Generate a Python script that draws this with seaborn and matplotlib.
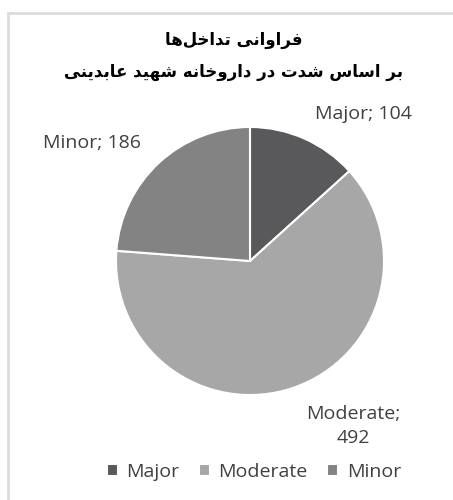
import matplotlib
matplotlib.use("Agg")
import matplotlib.pyplot as plt
import seaborn as sns
from matplotlib.patches import Rectangle

# data
categories = ["Major", "Moderate", "Minor"]
counts = [104, 492, 186]
colors = ["#59595b", "#a7a7a7", "#838383"]
title_lines = ["فراوانی تداخل‌ها", "بر اساس شدت در داروخانه شهید عابدینی"]

# matplotlib has no arabic shaping, so pick the joined glyph forms by hand
FORMS = {
    "ا": ("\uFE8D", "\uFE8E", None, None),
    "ب": ("\uFE8F", "\uFE90", "\uFE91", "\uFE92"),
    "ت": ("\uFE95", "\uFE96", "\uFE97", "\uFE98"),
    "خ": ("\uFEA5", "\uFEA6", "\uFEA7", "\uFEA8"),
    "د": ("\uFEA9", "\uFEAA", None, None),
    "ر": ("\uFEAD", "\uFEAE", None, None),
    "س": ("\uFEB1", "\uFEB2", "\uFEB3", "\uFEB4"),
    "ش": ("\uFEB5", "\uFEB6", "\uFEB7", "\uFEB8"),
    "ع": ("\uFEC9", "\uFECA", "\uFECB", "\uFECC"),
    "ف": ("\uFED1", "\uFED2", "\uFED3", "\uFED4"),
    "ل": ("\uFEDD", "\uFEDE", "\uFEDF", "\uFEE0"),
    "ن": ("\uFEE5", "\uFEE6", "\uFEE7", "\uFEE8"),
    "ه": ("\uFEE9", "\uFEEA", "\uFEEB", "\uFEEC"),
    "و": ("\uFEED", "\uFEEE", None, None),
    "ی": ("\uFEEF", "\uFEF0", "\uFEF3", "\uFEF4"),
}


def shape(s):
    out = []
    for i, ch in enumerate(s):
        if ch not in FORMS:
            if ch != "\u200c":
                out.append(ch)
            continue
        iso, fin, ini, med = FORMS[ch]
        prev = s[i - 1] if i > 0 else ""
        nxt = s[i + 1] if i + 1 < len(s) else ""
        join_prev = prev in FORMS and FORMS[prev][2] is not None
        join_next = ini is not None and nxt in FORMS
        if join_prev and join_next:
            out.append(med)
        elif join_prev:
            out.append(fin)
        elif join_next:
            out.append(ini)
        else:
            out.append(iso)
    return "".join(reversed(out))


sns.set_theme(style="white")
plt.rcParams["font.family"] = ["Open Sans", "DejaVu Sans"]

fig = plt.figure(figsize=(4.53, 5.0), dpi=100)
fig.patch.set_facecolor("white")

# pie axes: centre ~ (250, 261) px, radius ~134 px
ax = fig.add_axes([(250 - 134) / 453, (500 - 261 - 134) / 500, 268 / 453, 268 / 500])

labels = [f"{c}; {v}" if c != "Moderate" else f"{c};\n{v}" for c, v in zip(categories, counts)]
wedges, texts = ax.pie(counts, colors=colors, startangle=90, counterclock=False,
                       labels=labels, labeldistance=1.2,
                       wedgeprops=dict(edgecolor="white", linewidth=1.5),
                       textprops=dict(fontsize=14, color="#404040"))
ax.set_xlim(-1, 1)
ax.set_ylim(-1, 1)

# moderate label sits a bit further out
x, y = texts[1].get_position()
texts[1].set_position((x * 1.3 / 1.2, y * 1.3 / 1.2))
texts[1].set_multialignment("center")
texts[1].set_linespacing(1.45)

fig.legend(wedges, categories, loc="center", bbox_to_anchor=(254 / 453, 1 - 472 / 500),
           ncol=3, frameon=False, fontsize=14, handlelength=0.55, handleheight=0.55,
           handletextpad=0.45, columnspacing=1.0, labelcolor="#404040")

for line, ypix in zip(title_lines, [40, 72]):
    fig.text(234 / 453, 1 - ypix / 500, shape(line), ha="center", va="center", fontsize=12,
             fontweight="bold", family="DejaVu Sans", color="black")

# light frame around the chart area
fig.patches.append(Rectangle((8 / 453, -0.1), 1.2, 1 - 13 / 500 + 0.1, transform=fig.transFigure,
                             fill=False, edgecolor="#dcdcdc", linewidth=2))

fig.savefig("out.png", dpi=100)
